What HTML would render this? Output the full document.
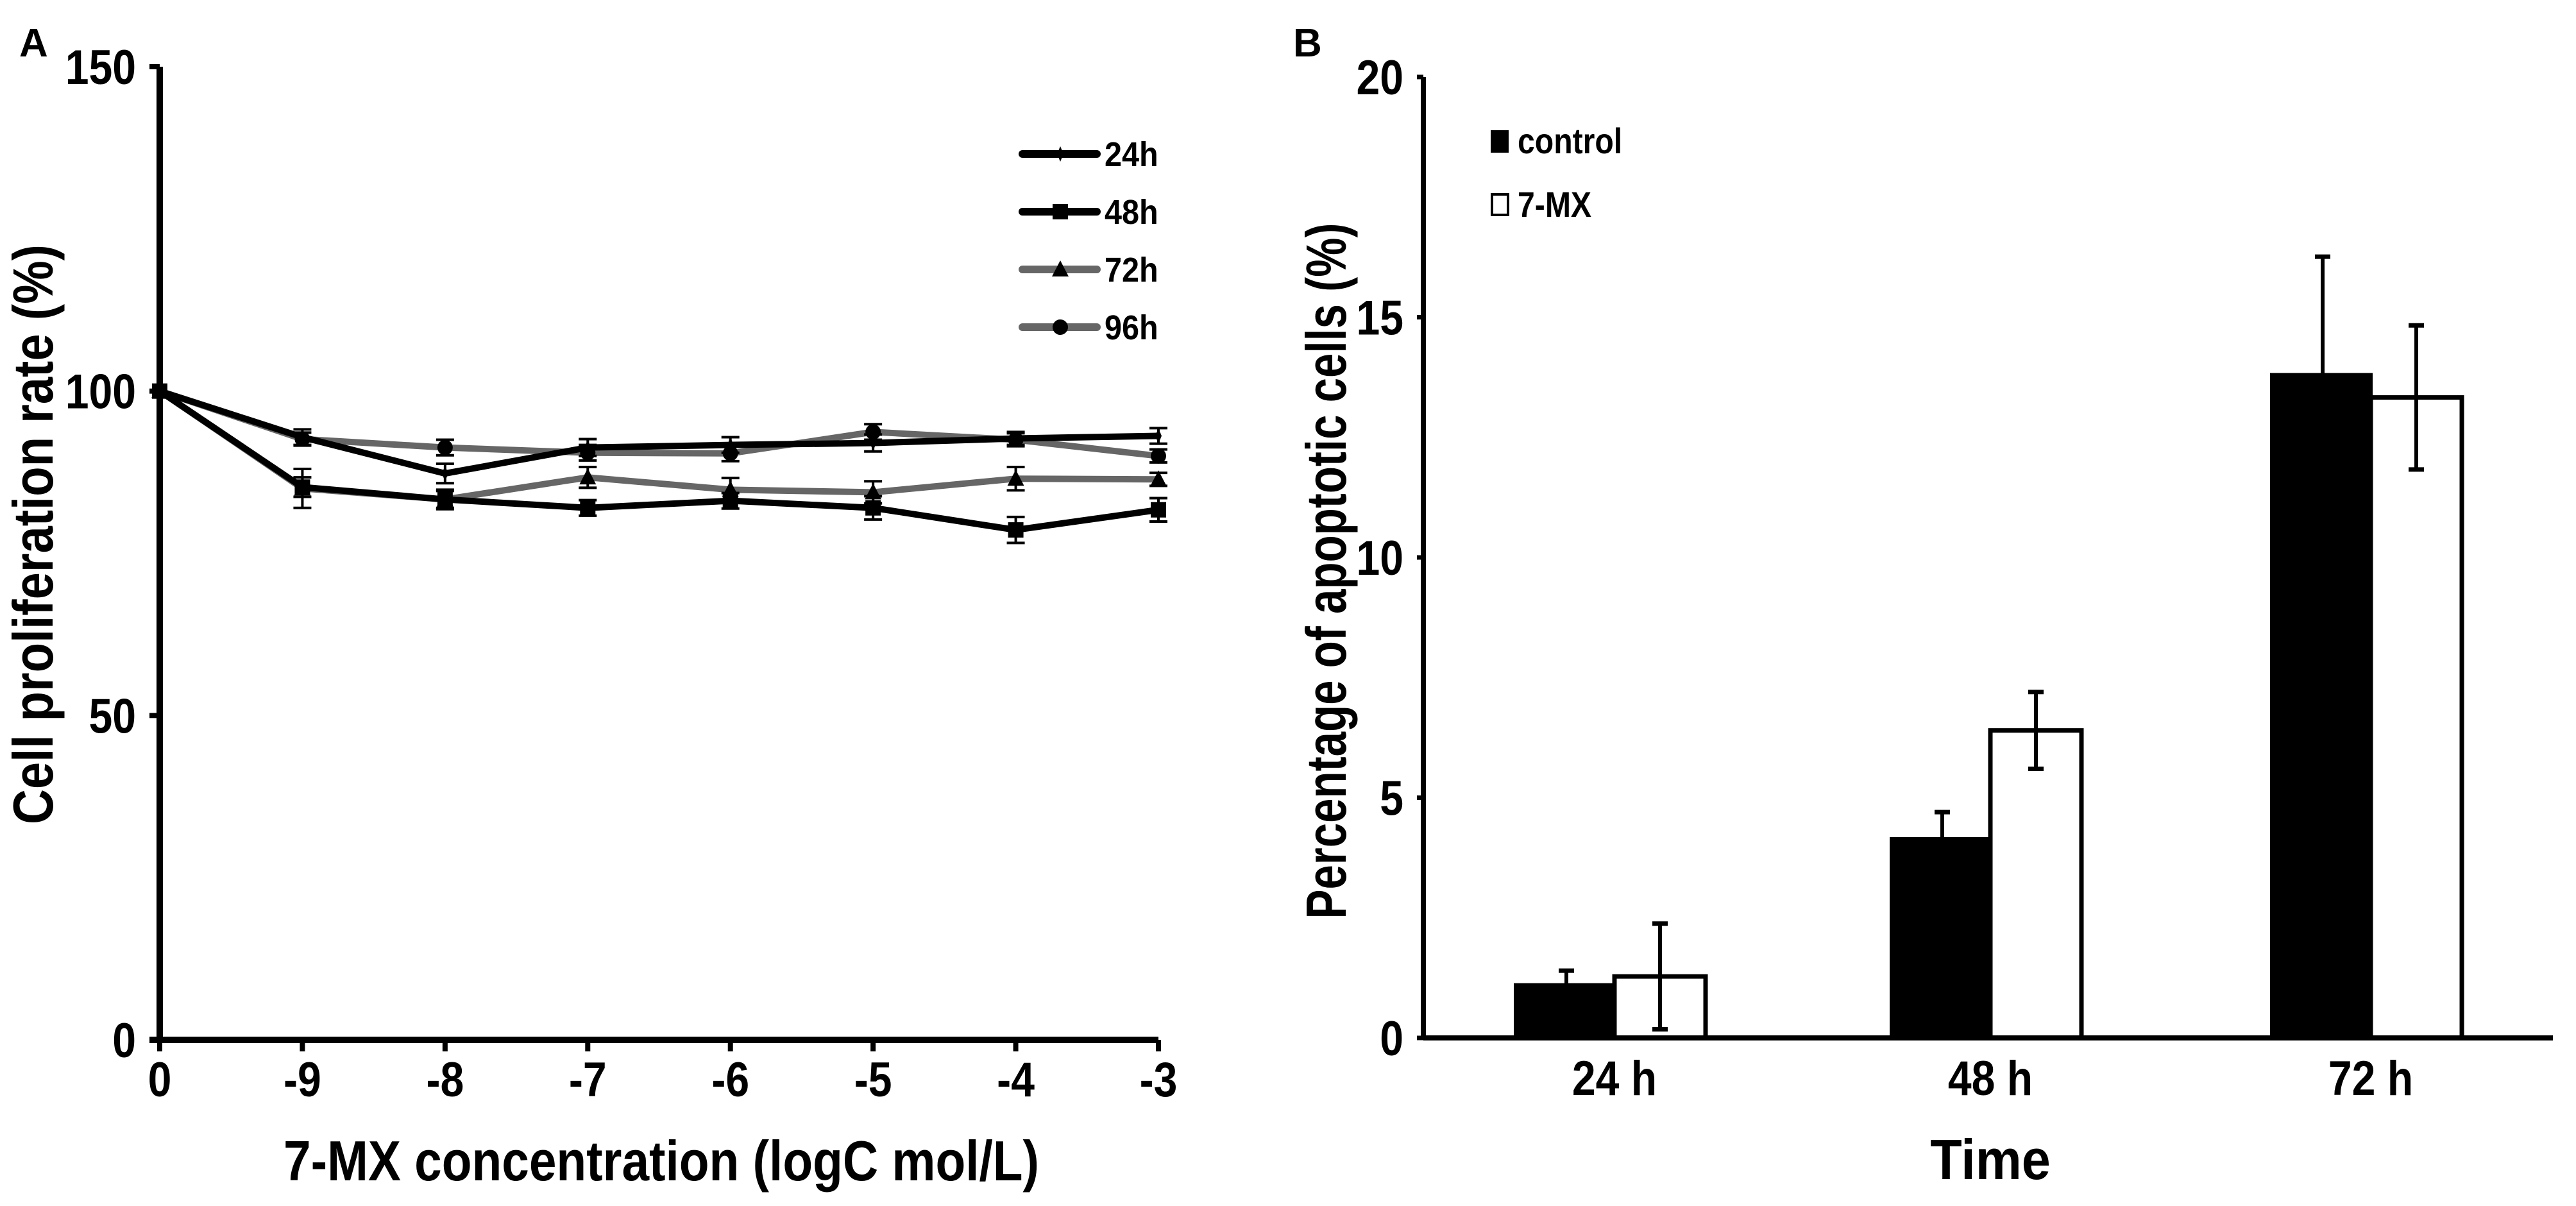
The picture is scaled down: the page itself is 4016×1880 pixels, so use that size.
<!DOCTYPE html>
<html><head><meta charset="utf-8"><style>html,body{margin:0;padding:0;background:#fff}svg{display:block}text{font-family:"Liberation Sans",Arial,sans-serif;font-weight:bold;fill:#000}</style></head>
<body>
<svg id="fig" width="4016" height="1880" viewBox="0 0 4016 1880" xmlns="http://www.w3.org/2000/svg">
<g id="pa"></g>
<g id="pb"></g>
</svg>
<script>
// Panel A data
const concLabels = ["0","-9","-8","-7","-6","-5","-4","-3"];
const yTicksA = [0,50,100,150];
const s24 = [100,92.9,87.3,91.3,91.7,92.0,92.7,93.1];
const e24 = [0,1.2,1.5,1.3,1.2,1.3,1.0,1.2];
const s48 = [100,85.2,83.3,82.0,83.1,82.0,78.6,81.7];
const e48 = [0,1.5,1.3,1.2,1.2,1.8,2.0,1.8];
const s72 = [100,85.0,83.3,86.7,84.8,84.4,86.5,86.4];
const e72 = [0,3.0,1.5,1.6,1.8,1.7,1.8,1.0];
const s96 = [100,92.6,91.3,90.5,90.4,93.7,92.5,90.0];
const e96 = [0,1.0,1.2,1.2,1.2,1.2,1.0,1.0];
const seriesNames = ["24h","48h","72h","96h"];
// Panel B data
const timeLabels = ["24 h","48 h","72 h"];
const yTicksB = [0,5,10,15,20];
const controlVals = [1.1,4.14,13.8];
const controlErr = [0.3,0.56,2.46];
const mxVals = [1.28,6.4,13.33];
const mxErr = [1.1,0.8,1.5];

const NS="http://www.w3.org/2000/svg";
function mk(parent,tag,attrs){const e=document.createElementNS(NS,tag);for(const k in attrs)e.setAttribute(k,attrs[k]);parent.appendChild(e);return e;}
function ctext(parent,x,y,size,anchor,str,sx){
  const e=mk(parent,'text',{x:0,y:0,'font-size':size,'text-anchor':anchor,transform:`translate(${x},${y}) scale(${sx||0.87},1)`});
  e.textContent=str;return e;
}

// ----- Panel A -----
const pa=document.getElementById('pa');
const ax0=249, ax1=1806, ay0=1621, ay1=104;
const xA=i=>ax0+i*(ax1-ax0)/(concLabels.length-1);
const yA=v=>ay0-(v/150)*(ay0-ay1);
let t=mk(pa,'text',{x:30,y:88,'font-size':62});t.textContent='A';


let l=mk(pa,'line',{x1:ax0,y1:ay1,x2:ax0,y2:ay0,stroke:'#000','stroke-width':10});


l=mk(pa,'line',{x1:ax0-16,y1:ay0,x2:ax1,y2:ay0,stroke:'#000','stroke-width':10});


yTicksA.forEach(v=>{
  mk(pa,'line',{x1:ax0-16,y1:yA(v),x2:ax0,y2:yA(v),stroke:'#000','stroke-width':8});
  const tt=ctext(pa,212,yA(v)+27,76,'end',String(v));
  
  
});
concLabels.forEach((c,i)=>{
  mk(pa,'line',{x1:xA(i),y1:ay0,x2:xA(i),y2:ay0+18,stroke:'#000','stroke-width':8});
  const tt=ctext(pa,xA(i),1709,76,'middle',c);
  
  
});
t=mk(pa,'text',{x:1031,y:1840,'font-size':88,'text-anchor':'middle',textLength:1178,lengthAdjust:'spacingAndGlyphs'});t.textContent='7-MX concentration (logC mol/L)';


t=mk(pa,'text',{x:0,y:0,'font-size':88,'text-anchor':'middle',textLength:904,lengthAdjust:'spacingAndGlyphs',transform:'translate(82,833) rotate(-90)'});t.textContent='Cell proliferation rate (%)';



const sets=[[s24,e24,'#000','diamond'],[s48,e48,'#000','square'],[s72,e72,'#666','triangle'],[s96,e96,'#666','circle']];
function marker(g,x,y,type){
  let m;
  if(type==='square') m=mk(g,'rect',{x:x-12,y:y-12,width:24,height:24,fill:'#000'});
  else if(type==='circle') m=mk(g,'circle',{cx:x,cy:y,r:12,fill:'#000'});
  else if(type==='triangle') m=mk(g,'polygon',{points:`${x},${y-14} ${x-13},${y+11} ${x+13},${y+11}`,fill:'#000'});
  else m=mk(g,'polygon',{points:`${x},${y-12} ${x-5},${y} ${x},${y+12} ${x+5},${y}`,fill:'#000'});
  return m;
}
[3,2,1,0].forEach(si=>{
  const [vals,errs,col,mt]=sets[si];
  const g=mk(pa,'g',{});
  
  
  const pts=vals.map((v,i)=>xA(i)+','+yA(v)).join(' ');
  const pl=mk(g,'polyline',{points:pts,fill:'none',stroke:col,'stroke-width':10,'stroke-linejoin':'round'});
  
  
  vals.forEach((v,i)=>{
    if(errs[i]>0){
      const x=xA(i),yt=yA(v+errs[i]),yb=yA(v-errs[i]);
      mk(g,'line',{x1:x,y1:yt,x2:x,y2:yb,stroke:'#000','stroke-width':4});
      mk(g,'line',{x1:x-14,y1:yt,x2:x+14,y2:yt,stroke:'#000','stroke-width':4});
      mk(g,'line',{x1:x-14,y1:yb,x2:x+14,y2:yb,stroke:'#000','stroke-width':4});
    }
    const m=marker(g,xA(i),yA(v),mt);
    
    
  });
});
seriesNames.forEach((n,i)=>{
  const y=240+i*90;
  const g=mk(pa,'g',{});
  
  
  mk(g,'line',{x1:1594,y1:y,x2:1710,y2:y,stroke:sets[i][2],'stroke-width':12,'stroke-linecap':'round'});
  marker(g,1653,y,sets[i][3]);
  ctext(g,1722,y+19,54,'start',n,0.9);
});

// ----- Panel B -----
const pb=document.getElementById('pb');
const bx0=2219,bx1=3980,by0=1618,by1=120;
const yB=v=>by0-(v/20)*(by0-by1);
const groupCenters=[2517,3103,3696];
const bw=150;
t=mk(pb,'text',{x:2016,y:88,'font-size':62});t.textContent='B';


l=mk(pb,'line',{x1:bx0,y1:by1,x2:bx0,y2:by0,stroke:'#000','stroke-width':8});


yTicksB.forEach(v=>{
  mk(pb,'line',{x1:bx0-10,y1:yB(v),x2:bx0,y2:yB(v),stroke:'#000','stroke-width':7});
  const tt=ctext(pb,2188,yB(v)+27,76,'end',String(v));
  
  
});
timeLabels.forEach((lab,i)=>{
  const c=groupCenters[i];
  const r1=mk(pb,'rect',{x:c-bw-4,y:yB(controlVals[i]),width:bw+4,height:by0-yB(controlVals[i]),fill:'#000',stroke:'#000','stroke-width':6});
  
  
  const r2=mk(pb,'rect',{x:c,y:yB(mxVals[i]),width:bw-8,height:by0-yB(mxVals[i]),fill:'#fff',stroke:'#000','stroke-width':7});
  
  
  let xc=c-bw/2,yt=yB(controlVals[i]+controlErr[i]);
  mk(pb,'line',{x1:xc,y1:yt,x2:xc,y2:yB(controlVals[i]),stroke:'#000','stroke-width':6});
  mk(pb,'line',{x1:xc-12,y1:yt,x2:xc+12,y2:yt,stroke:'#000','stroke-width':7});
  xc=c+(bw-8)/2;yt=yB(mxVals[i]+mxErr[i]);const yb=yB(mxVals[i]-mxErr[i]);
  mk(pb,'line',{x1:xc,y1:yt,x2:xc,y2:yb,stroke:'#000','stroke-width':6});
  mk(pb,'line',{x1:xc-12,y1:yt,x2:xc+12,y2:yt,stroke:'#000','stroke-width':7});
  mk(pb,'line',{x1:xc-12,y1:yb,x2:xc+12,y2:yb,stroke:'#000','stroke-width':7});
  const tt=ctext(pb,c,1707,76,'middle',lab);
  
  
});
l=mk(pb,'line',{x1:bx0,y1:by0,x2:bx1,y2:by0,stroke:'#000','stroke-width':8});


t=ctext(pb,3103,1838,88,'middle','Time',0.92);


t=mk(pb,'text',{x:0,y:0,'font-size':88,'text-anchor':'middle',textLength:1085,lengthAdjust:'spacingAndGlyphs',transform:'translate(2098,890) rotate(-90)'});t.textContent='Percentage of apoptotic cells (%)';


let g=mk(pb,'g',{});


mk(g,'rect',{x:2324,y:203,width:28,height:35,fill:'#000'});
ctext(g,2366,239,56,'start','control',0.86);
g=mk(pb,'g',{});


mk(g,'rect',{x:2326,y:303,width:25,height:32,fill:'#fff',stroke:'#000','stroke-width':4});
ctext(g,2366,338,56,'start','7-MX',0.86);
</script>
</body></html>
